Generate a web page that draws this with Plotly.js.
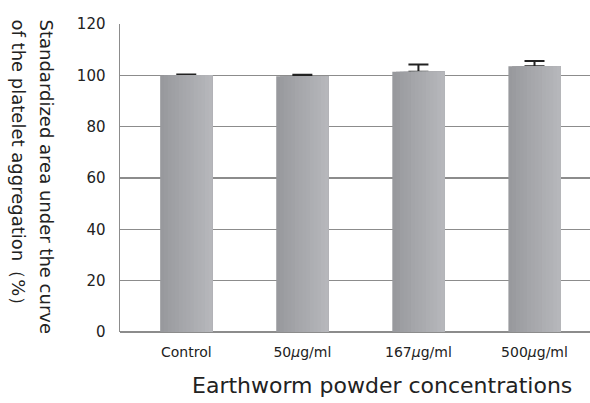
<!DOCTYPE html>
<html>
<head>
<meta charset="utf-8">
<script src="https://cdn.plot.ly/plotly-3.0.1.min.js"></script>
<style>html,body{margin:0;padding:0;background:#fff;}#chart{width:590px;height:403px;}</style>
</head>
<body>
<div id="chart"></div>
<script>
const categories = ['Control', '50μg/ml', '167μg/ml', '500μg/ml'];
const tickLabels = ['Control', '50<i>μ</i>g/ml', '167<i>μ</i>g/ml', '500<i>μ</i>g/ml'];
const means = [100.0, 99.6, 101.4, 103.5];
const errors = [0.3, 0.6, 2.8, 2.1];
const yTicks = [0, 20, 40, 60, 80, 100, 120];

const W = 0.45, N = 14;
const c0 = [152, 153, 157], c1 = [182, 183, 187];
const traces = [];
for (let k = 0; k < N; k++) {
  const t = k / (N - 1);
  const col = 'rgb(' + c0.map((v, i) => Math.round(v + (c1[i] - v) * t)).join(',') + ')';
  const tr = {
    type: 'bar', x: categories, y: means,
    width: W * (N - k) / N, offset: -W / 2 + W * k / N,
    marker: {color: col, line: {width: 0}},
    hoverinfo: 'skip', showlegend: false
  };
  if (k === 0) {
    tr.error_y = {type: 'data', symmetric: false, array: errors, arrayminus: means.map(() => 0),
                  color: '#222', thickness: 2, width: 10};
  }
  traces.push(tr);
}

const font = 'DejaVu Sans, sans-serif';
const layout = {
  width: 590, height: 403,
  margin: {l: 120, r: 0, t: 24, b: 71},
  paper_bgcolor: '#fff', plot_bgcolor: '#fff',
  barmode: 'overlay',
  showlegend: false,
  font: {family: font, color: '#222'},
  xaxis: {
    type: 'category', range: [-0.571, 3.478],
    tickvals: categories, ticktext: tickLabels,
    tickfont: {size: 14, family: font, color: '#222'},
    showgrid: false, showline: false, zeroline: false, ticks: '',
    ticklabelstandoff: 10
  },
  yaxis: {
    range: [0, 120], tickvals: yTicks,
    tickfont: {size: 15, family: font, color: '#222'},
    showgrid: true, gridcolor: '#8c8c8c', gridwidth: 1.5,
    showline: true, linecolor: '#8c8c8c', linewidth: 1.5,
    zeroline: true, zerolinecolor: '#8c8c8c', zerolinewidth: 1.5,
    ticks: '', ticklabelstandoff: 10
  },
  annotations: [
    {text: 'Earthworm powder concentrations', xref: 'paper', yref: 'paper',
     x: (382 - 120) / 470, y: (332 - 385) / 308, xanchor: 'center', yanchor: 'middle',
     showarrow: false, font: {size: 22, family: font, color: '#222'}},
    {text: 'Standardized area under the curve', xref: 'paper', yref: 'paper',
     x: (46 - 120) / 470, y: (332 - 17) / 308, xanchor: 'center', yanchor: 'top',
     textangle: 90, showarrow: false, font: {size: 18, family: font, color: '#222'}},
    {text: 'of the platelet aggregation（%）', xref: 'paper', yref: 'paper',
     x: (18 - 120) / 470, y: (332 - 17) / 308, xanchor: 'center', yanchor: 'top',
     textangle: 90, showarrow: false, font: {size: 18, family: font, color: '#222'}}
  ]
};
Plotly.newPlot('chart', traces, layout, {staticPlot: true, displayModeBar: false});
</script>
</body>
</html>
